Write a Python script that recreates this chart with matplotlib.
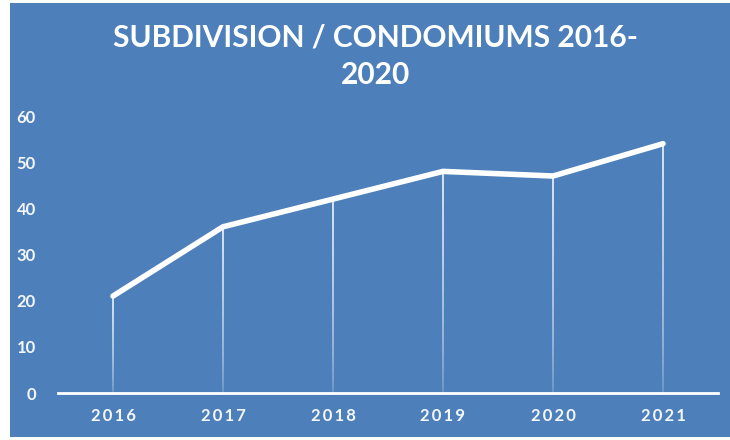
import matplotlib.pyplot as plt
import numpy as np
from matplotlib.collections import LineCollection
from matplotlib.patches import Rectangle

years = ['2016', '2017', '2018', '2019', '2020', '2021']
counts = [21, 36, 42, 48, 47, 54]
y_ticks = [0, 10, 20, 30, 40, 50, 60]
title = 'SUBDIVISION / CONDOMIUMS 2016-\n2020'

bg = '#4d7fba'
plt.rcParams['font.family'] = ['Lato', 'DejaVu Sans']

fig = plt.figure(figsize=(7.3, 4.4), dpi=100, facecolor='white')
fig.patches.append(Rectangle((10 / 730, 3 / 440), 720 / 730, 434 / 440,
                             transform=fig.transFigure, facecolor=bg,
                             edgecolor='none', zorder=-5))
ax = fig.add_axes([58 / 730, 47 / 440, 660 / 730, 277 / 440])
ax.set_facecolor('none')

x = np.arange(len(years))
ax.set_xlim(-0.5, len(years) - 0.5)
ax.set_ylim(0, 60)

# drop lines that fade out towards the baseline
for xi, yi in zip(x, counts):
    ys = np.linspace(0, yi, 60)
    segs = [[(xi, ys[i]), (xi, ys[i + 1])] for i in range(len(ys) - 1)]
    alphas = np.clip(np.linspace(0.05, 1.0, len(segs)) ** 0.5, 0, 1)
    colors = [(1, 1, 1, a) for a in alphas]
    ax.add_collection(LineCollection(segs, colors=colors, linewidths=1.1, zorder=2))

ax.plot(x, counts, color='white', lw=4, solid_capstyle='round',
        solid_joinstyle='round', zorder=3)

for s in ['top', 'right', 'left']:
    ax.spines[s].set_visible(False)
ax.spines['bottom'].set_color('white')
ax.spines['bottom'].set_linewidth(2)

ax.set_xticks(x)
ax.set_xticklabels(['\u2009'.join(y) for y in years], fontsize=12, fontweight='bold',
                   color='#f4f7fb')
ax.set_yticks(y_ticks)
ax.set_yticklabels([str(t) for t in y_ticks], fontsize=12, fontweight='bold',
                   color='#f4f7fb')
ax.tick_params(axis='both', length=0)
ax.tick_params(axis='x', pad=11)
ax.tick_params(axis='y', pad=16)

fig.text(375 / 730, 1 - 56 / 440, title, ha='center', va='center', fontsize=21.5,
         fontweight='bold', color='white', linespacing=1.4)

fig.savefig('out.png', dpi=100, facecolor='white')
